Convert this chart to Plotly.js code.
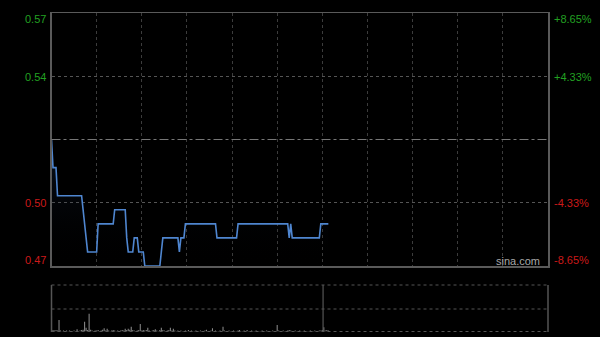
<!DOCTYPE html>
<html>
<head>
<meta charset="utf-8">
<script src="https://cdn.plot.ly/plotly-3.0.1.min.js"></script>
<style>html,body{margin:0;padding:0;background:#000;}#chart{width:600px;height:337px;}</style>
</head>
<body>
<div id="chart"></div>
<script>
// minute index (0 = open) and last price each minute
const prices = [
  0.52,
  0.51,0.51,0.51,
  0.50,0.50,0.50,0.50,0.50,0.50,0.50,0.50,0.50,0.50,0.50,0.50,0.50,0.50,0.50,0.50,0.50,
  0.495,0.49,0.485,
  0.48,0.48,0.48,0.48,0.48,0.48,0.48,
  0.49,0.49,0.49,0.49,0.49,0.49,0.49,0.49,0.49,0.49,0.49,
  0.495,0.495,0.495,0.495,0.495,0.495,0.495,0.495,
  0.485,
  0.48,0.48,0.48,0.48,
  0.485,0.485,0.485,
  0.48,0.48,0.48,0.48,
  0.475,0.475,0.475,0.475,0.475,0.475,0.475,0.475,0.475,0.475,0.475,
  0.48,
  0.485,0.485,0.485,0.485,0.485,0.485,0.485,0.485,0.485,0.485,0.485,
  0.48,
  0.485,0.485,0.485,
  0.49,0.49,0.49,0.49,0.49,0.49,0.49,0.49,0.49,0.49,0.49,0.49,0.49,0.49,0.49,0.49,0.49,0.49,0.49,0.49,0.49,
  0.485,0.485,0.485,0.485,0.485,0.485,0.485,0.485,0.485,0.485,0.485,0.485,0.485,0.485,
  0.49,0.49,0.49,0.49,0.49,0.49,0.49,0.49,0.49,0.49,0.49,0.49,0.49,0.49,0.49,0.49,0.49,
  0.49,0.49,0.49,0.49,0.49,0.49,0.49,0.49,0.49,0.49,0.49,0.49,0.49,0.49,0.49,0.49,0.49,
  0.485,
  0.49,
  0.485,0.485,0.485,0.485,0.485,0.485,0.485,0.485,0.485,0.485,0.485,0.485,0.485,0.485,0.485,0.485,0.485,0.485,0.485,
  0.49,0.49,0.49,0.49,0.49,0.49
];
const volumes = [
  34,3,2,3,2,25,2,1,2,1,2,1,2,1,1,2,1,5,1,2,
  3,4,21,8,3,38,4,2,1,2,2,3,1,2,4,7,2,6,2,1,
  2,3,2,1,2,1,2,3,2,6,3,6,4,10,3,2,1,2,3,16,
  2,3,2,3,8,2,1,2,3,5,2,1,3,8,3,2,1,2,3,8,
  2,6,2,1,2,1,2,1,1,2,1,3,1,2,1,1,2,1,1,2,
  1,1,2,4,1,1,2,7,1,2,1,1,2,1,10,2,1,1,2,1,
  1,2,1,1,2,3,1,1,2,1,3,1,1,2,1,1,2,1,1,1,
  2,1,1,2,1,1,1,2,1,1,14,2,1,1,2,1,1,2,3,2,
  1,1,2,1,1,2,1,1,2,1,1,1,2,1,1,2,1,1,2,2,
  3,9,2,3,2
];
const minutes = prices.map((_, i) => i);
const prevClose = 0.52;
const priceRange = [0.475, 0.565];
const leftLabels = ['0.57', '0.54', '0.50', '0.47'];
const rightLabels = ['+8.65%', '+4.33%', '-4.33%', '-8.65%'];
const labelY = [19, 77, 203, 260];
const labelColors = ['#22a022', '#22a022', '#cc1a1a', '#cc1a1a'];
const gridPrices = [0.5425, 0.4975];

const X0 = 51.5/600, X1 = 548/600;
const py = p => 1 - p/337;

const traces = [
  {
    x: minutes, y: prices, type: 'scatter', mode: 'lines',
    line: {color: '#4f86d0', width: 1.6},
    fill: 'tozeroy',
    fillcolor: 'rgba(30,55,95,0.18)',
    fillgradient: {type: 'vertical', start: 0.475, stop: 0.52,
      colorscale: [[0, 'rgba(0,0,0,0)'], [1, 'rgba(35,65,110,0.28)']]},
    xaxis: 'x', yaxis: 'y', hoverinfo: 'skip'
  },
  {
    x: minutes, y: volumes, type: 'bar', width: 0.7,
    marker: {color: '#8a8a8a', line: {width: 0}},
    xaxis: 'x2', yaxis: 'y2', hoverinfo: 'skip'
  }
];

const annotations = [];
leftLabels.forEach((t, i) => annotations.push({
  xref: 'paper', yref: 'paper', x: 48/600, y: py(labelY[i]), xanchor: 'right', yanchor: 'middle',
  text: t, showarrow: false, font: {family: 'Liberation Sans, Arial, sans-serif', size: 11, color: labelColors[i]}
}));
rightLabels.forEach((t, i) => annotations.push({
  xref: 'paper', yref: 'paper', x: 552/600, y: py(labelY[i]), xanchor: 'left', yanchor: 'middle',
  text: t, showarrow: false, font: {family: 'Liberation Sans, Arial, sans-serif', size: 11, color: labelColors[i]}
}));
annotations.push({
  xref: 'paper', yref: 'paper', x: 518/600, y: py(261), xanchor: 'center', yanchor: 'middle',
  text: 'sina.com', showarrow: false, font: {family: 'Liberation Sans, Arial, sans-serif', size: 11, color: '#a8a8a8'}
});

const shapes = [
  // prev close
  {type: 'line', xref: 'x domain', yref: 'y', x0: 0, x1: 1, y0: prevClose, y1: prevClose,
   line: {color: '#777', width: 1, dash: 'dashdot'}},
  // volume panel borders
  {type: 'line', xref: 'paper', yref: 'paper', x0: X0, x1: X0, y0: py(285), y1: py(332), line: {color: '#555', width: 1.5}},
  {type: 'line', xref: 'paper', yref: 'paper', x0: X1, x1: X1, y0: py(285), y1: py(332), line: {color: '#555', width: 1.5}},
  {type: 'line', xref: 'x2', yref: 'paper', x0: 180.5, x1: 180.5, y0: py(285), y1: py(332), line: {color: '#555', width: 1.2}},
  {type: 'line', xref: 'paper', yref: 'paper', x0: X0, x1: X1, y0: py(285), y1: py(285), line: {color: '#555', width: 1, dash: 'dot'}},
  {type: 'line', xref: 'paper', yref: 'paper', x0: X0, x1: X1, y0: py(309), y1: py(309), line: {color: '#555', width: 1, dash: 'dot'}},
  {type: 'line', xref: 'paper', yref: 'paper', x0: X0, x1: X1, y0: py(331.5), y1: py(331.5), line: {color: '#555', width: 1, dash: 'dot'}}
];

const layout = {
  width: 600, height: 337,
  margin: {l: 0, r: 0, t: 0, b: 0},
  paper_bgcolor: '#000', plot_bgcolor: '#000',
  showlegend: false,
  xaxis: {domain: [X0, X1], range: [0, 330], tick0: 0, dtick: 30, showticklabels: false, ticks: '',
    showgrid: true, gridcolor: '#3c3c3c', griddash: 'dot', gridwidth: 1, zeroline: false,
    showline: true, linecolor: '#5a5a5a', linewidth: 1.5, mirror: true, fixedrange: true},
  yaxis: {domain: [py(266), py(13)], range: priceRange, tickvals: gridPrices, showticklabels: false, ticks: '',
    showgrid: true, gridcolor: '#555', griddash: 'dot', gridwidth: 1, zeroline: false,
    showline: true, linecolor: '#5a5a5a', linewidth: 1.5, mirror: true, fixedrange: true},
  xaxis2: {domain: [X0, X1], range: [0, 330], anchor: 'y2', showticklabels: false, ticks: '',
    showgrid: false, zeroline: false, showline: false, fixedrange: true},
  yaxis2: {domain: [py(331.5), py(285)], range: [0, 100], anchor: 'x2', showticklabels: false, ticks: '',
    showgrid: false, zeroline: false, showline: false, fixedrange: true},
  bargap: 0.3,
  annotations: annotations,
  shapes: shapes
};

Plotly.newPlot('chart', traces, layout, {staticPlot: true, displayModeBar: false});
</script>
</body>
</html>
